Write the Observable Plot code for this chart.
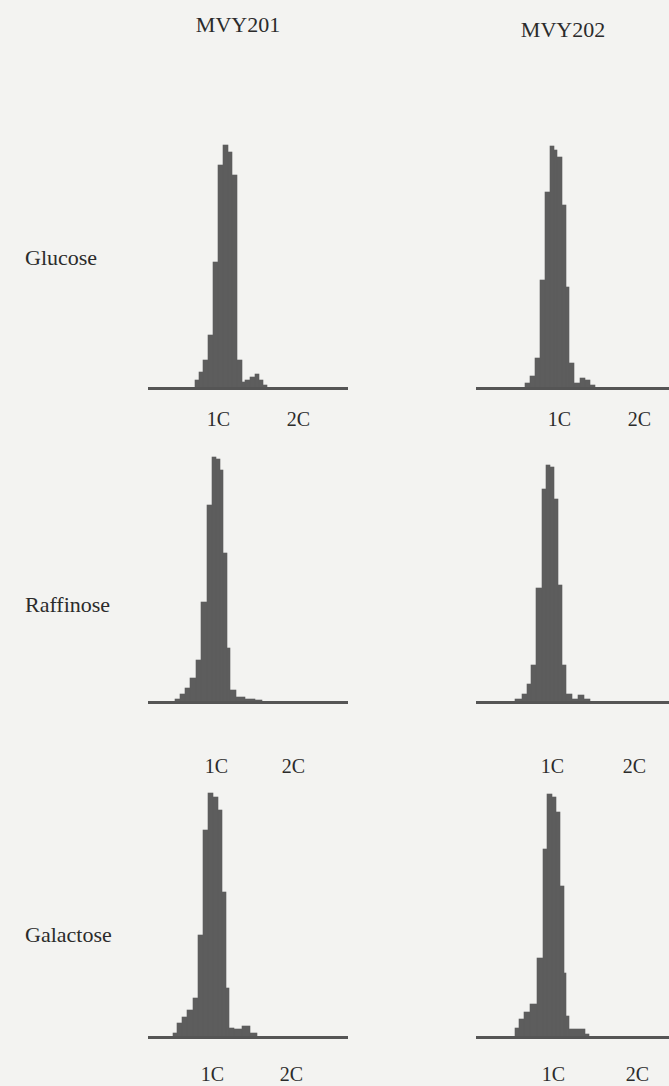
<!DOCTYPE html>
<html>
<head>
<meta charset="utf-8">
<script src="https://cdn.jsdelivr.net/npm/d3@7"></script>
<script src="https://cdn.jsdelivr.net/npm/@observablehq/plot@0.6"></script>
<style>
  html, body { margin: 0; padding: 0; background: #f3f3f1; }
  #page { position: relative; width: 669px; height: 1086px; overflow: hidden; background: #f3f3f1;
          font-family: "Liberation Serif", "DejaVu Serif", serif; color: #2b2b2b; }
  .hdr { position: absolute; font-size: 22px; transform: translate(-50%, -50%); white-space: nowrap; }
  .row { position: absolute; font-size: 22px; transform: translateY(-50%); white-space: nowrap; }
  .panel { position: absolute; }
</style>
</head>
<body>
<div id="page"></div>
<script>
// ---- data (DNA content channel, relative cell counts) ----
const strains = ["MVY201", "MVY202"];
const sugars = ["Glucose", "Raffinose", "Galactose"];
const tickLabels = ["1C", "2C"];

const glu201Edges = [47, 51, 55, 60, 65, 70, 75, 80, 84, 89, 94, 97, 102, 107, 111, 115, 119];
const glu201Counts = [8, 16, 28, 53, 126, 223, 243, 236, 213, 28, 6, 8, 11, 14, 8, 3];
const glu202Edges = [49, 54, 59, 64, 69, 74, 78, 81, 86, 90, 93, 98, 104, 109, 114, 119];
const glu202Counts = [5, 12, 30, 108, 196, 242, 238, 231, 183, 101, 25, 5, 10, 8, 3];

const raf201Edges = [27, 32, 37, 42, 48, 53, 59, 64, 68, 72, 75, 79, 82, 88, 97, 107, 114];
const raf201Counts = [3, 8, 14, 24, 42, 100, 197, 245, 243, 232, 149, 54, 12, 5, 3, 2];
const raf202Edges = [39, 46, 51, 55, 60, 66, 70, 74, 78, 82, 86, 90, 96, 102, 108, 114];
const raf202Counts = [3, 8, 18, 37, 114, 213, 237, 235, 203, 117, 37, 8, 3, 7, 3];

const gal201Edges = [25, 29, 34, 39, 45, 50, 55, 60, 65, 70, 74, 78, 81, 86, 94, 102, 109];
const gal201Counts = [4, 14, 20, 27, 39, 102, 207, 244, 240, 227, 145, 49, 9, 8, 11, 4];
const gal202Edges = [39, 43, 48, 54, 61, 67, 71, 76, 80, 84, 88, 90, 93, 109, 113];
const gal202Counts = [9, 18, 25, 33, 79, 188, 243, 240, 225, 151, 64, 21, 8, 3];

// 1C / 2C tick positions per panel
const glu201Ticks = [70, 150];
const glu202Ticks = [83, 163];
const raf201Ticks = [68, 145];
const raf202Ticks = [76, 158];
const gal201Ticks = [64, 143];
const gal202Ticks = [77, 161];

// ---- layout ----
const page = document.getElementById("page");
const BAR = "#5d5d5d";

function addText(cls, txt, x, y) {
  const d = document.createElement("div");
  d.className = cls; d.textContent = txt;
  d.style.left = x + "px"; d.style.top = y + "px";
  page.appendChild(d);
}
addText("hdr", strains[0], 238, 25);
addText("hdr", strains[1], 563, 30);
addText("row", sugars[0], 25, 258);
addText("row", sugars[1], 25, 605);
addText("row", sugars[2], 25, 935);

function panel(edges, counts, ticks, left, baseline, pad) {
  const inner = 250;
  const mb = 60;
  const chart = Plot.plot({
    width: 200,
    height: inner + mb,
    marginTop: 0, marginBottom: mb, marginLeft: 0, marginRight: 0,
    style: { background: "transparent", overflow: "visible", fontFamily: "Liberation Serif, serif", fontSize: "20px", color: "#2b2b2b" },
    x: { domain: [0, 200], axis: null },
    y: { domain: [0, inner], axis: null },
    marks: [
      Plot.rectY(counts, {
        x1: (d, i) => edges[i], x2: (d, i) => edges[i + 1], y: d => d,
        fill: BAR, stroke: BAR, strokeWidth: 0.6
      }),
      Plot.ruleY([0], { stroke: "#555", strokeWidth: 3 }),
      Plot.axisX(ticks, {
        tickSize: 0, tickPadding: pad, label: null,
        tickFormat: d => tickLabels[ticks.indexOf(d)],
        fill: "#2b2b2b"
      })
    ]
  });
  chart.classList.add("panel");
  chart.style.left = left + "px";
  chart.style.top = (baseline - inner) + "px";
  page.appendChild(chart);
}

panel(glu201Edges, glu201Counts, glu201Ticks, 148, 388, 23);
panel(glu202Edges, glu202Counts, glu202Ticks, 476, 388, 23);
panel(raf201Edges, raf201Counts, raf201Ticks, 148, 702, 56);
panel(raf202Edges, raf202Counts, raf202Ticks, 476, 702, 56);
panel(gal201Edges, gal201Counts, gal201Ticks, 148, 1037, 29);
panel(gal202Edges, gal202Counts, gal202Ticks, 476, 1037, 29);
</script>
</body>
</html>
